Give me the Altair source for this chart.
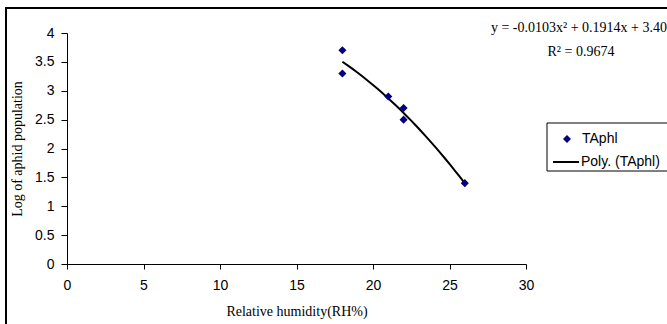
import altair as alt
import pandas as pd

# Data
rh = [18, 18, 21, 22, 22, 26]
log_aphid = [3.70, 3.30, 2.90, 2.70, 2.50, 1.40]
series_name = "TAphl"
trend_name = "Poly. (TAphl)"
equation_text = "y = -0.0103x² + 0.1914x + 3.40"
r2_text = "R² = 0.9674"

x_ticks = [0, 5, 10, 15, 20, 25, 30]
y_ticks = [0.0, 0.5, 1.0, 1.5, 2.0, 2.5, 3.0, 3.5, 4.0]

df = pd.DataFrame({"rh": rh, "log": log_aphid})

W, H = 459, 231
LEFT, TOP = 67, 33

xs = alt.Scale(domain=[0, 30], nice=False, zero=False)
ys = alt.Scale(domain=[0, 4], nice=False, zero=False)

x_axis = alt.Axis(values=x_ticks, title="Relative humidity(RH%)", grid=False,
                  format="~g", labelFlush=False, labelOverlap=False,
                  tickSize=5, labelPadding=9, titlePadding=12,
                  labelFont="Liberation Sans", labelFontSize=14, labelColor="#000",
                  titleFont="Liberation Serif", titleFontSize=14, titleFontWeight="normal",
                  titleColor="#000", domainColor="#000", tickColor="#000")
y_axis = alt.Axis(values=y_ticks, title="Log of aphid population", grid=False,
                  format="~g", labelFlush=False, labelOverlap=False,
                  tickSize=6, labelPadding=7, titlePadding=10,
                  labelFont="Liberation Sans", labelFontSize=14, labelColor="#000",
                  titleFont="Liberation Serif", titleFontSize=14, titleFontWeight="normal",
                  titleColor="#000", domainColor="#000", tickColor="#000")

base = alt.Chart(df)

points = base.mark_point(shape="diamond", filled=True, color="#000080", size=65, opacity=1).encode(
    x=alt.X("rh:Q", scale=xs, axis=x_axis),
    y=alt.Y("log:Q", scale=ys, axis=y_axis),
)

trend = base.transform_regression("rh", "log", method="poly", order=2).mark_line(
    color="#000", strokeWidth=2
).encode(x=alt.X("rh:Q", scale=xs, axis=x_axis), y=alt.Y("log:Q", scale=ys, axis=y_axis))

# annotation texts
eq = alt.Chart(pd.DataFrame({"t": [equation_text]})).mark_text(
    font="Liberation Serif", fontSize=14, align="right", baseline="middle", color="#000"
).encode(x=alt.value(600), y=alt.value(-5), text="t:N")

r2 = alt.Chart(pd.DataFrame({"t": [r2_text]})).mark_text(
    font="Liberation Serif", fontSize=14, align="center", baseline="middle", color="#000"
).encode(x=alt.value(514), y=alt.value(19), text="t:N")

# legend box
leg_box = alt.Chart(pd.DataFrame({"a": [0]})).mark_rect(
    fill="white", stroke="#000", strokeWidth=1
).encode(x=alt.value(480), x2=alt.value(610), y=alt.value(90), y2=alt.value(138))

leg_pt = alt.Chart(pd.DataFrame({"a": [0]})).mark_point(
    shape="diamond", filled=True, color="#000080", size=65, opacity=1
).encode(x=alt.value(500), y=alt.value(106))

leg_line = alt.Chart(pd.DataFrame({"a": [0]})).mark_rule(
    color="#000", strokeWidth=2
).encode(x=alt.value(486), x2=alt.value(512), y=alt.value(129))

leg_txt = alt.Chart(pd.DataFrame({
    "t": [series_name, trend_name],
    "xp": [515, 514],
    "yp": [106, 129],
})).mark_text(font="Liberation Sans", fontSize=14, align="left", baseline="middle",
              color="#000").encode(
    x=alt.X("xp:Q", scale=None), y=alt.Y("yp:Q", scale=None), text="t:N")

# outer frame (left and top edges)
frame_left = alt.Chart(pd.DataFrame({"a": [0]})).mark_rule(color="#000", strokeWidth=2).encode(
    x=alt.value(-61), y=alt.value(-26), y2=alt.value(300))
frame_top = alt.Chart(pd.DataFrame({"a": [0]})).mark_rule(color="#000", strokeWidth=2).encode(
    x=alt.value(-62), x2=alt.value(610), y=alt.value(-25))

chart = alt.layer(
    frame_left, frame_top, trend, points, eq, r2, leg_box, leg_pt, leg_line, leg_txt
).properties(
    width=W, height=H,
    autosize=alt.AutoSizeParams(type="none"),
    padding={"left": LEFT, "top": TOP, "right": 667 - LEFT - W, "bottom": 324 - TOP - H},
    background="white",
).configure_view(stroke=None)

chart.save("out.html", embed_options={"renderer": "svg", "actions": False})
